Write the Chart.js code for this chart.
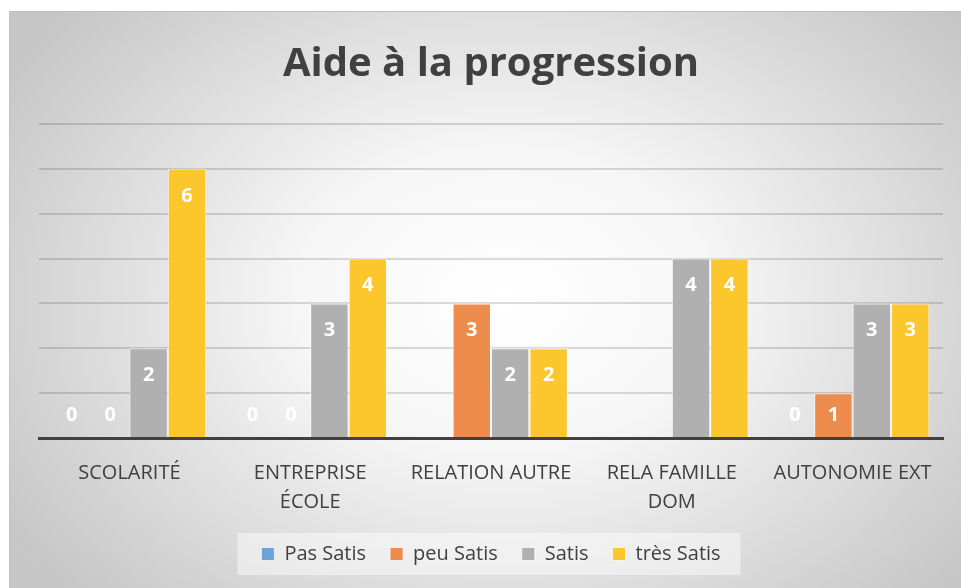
<!DOCTYPE html>
<html>
<head>
<meta charset="utf-8">
<script src="https://cdn.jsdelivr.net/npm/chart.js@4.4.0/dist/chart.umd.min.js"></script>
<style>
  html, body { margin: 0; padding: 0; background: #fff; }
  #frame {
    position: absolute; left: 9px; top: 11px; width: 952px; height: 577px;
    border-top: 1px solid #bdbdbd; border-left: 1px solid #c4c4c4;
    box-sizing: border-box;
    background: radial-gradient(ellipse 62% 75% at 52% 50%, #ffffff 0%, #f6f6f6 35%, #dcdcdc 70%, #c6c6c6 100%);
  }
  #frame canvas { position: absolute; left: 0; top: 0; }
</style>
</head>
<body>
<div id="frame"><canvas id="chart" width="951" height="576"></canvas></div>
<script>
// Aide à la progression - grouped bars

const categories = [['SCOLARITÉ'], ['ENTREPRISE', 'ÉCOLE'], ['RELATION AUTRE'], ['RELA FAMILLE', 'DOM'], ['AUTONOMIE EXT']];
const pasSatis  = [0, 0, null, null, 0];
const peuSatis  = [0, 0, 3, null, 1];
const satis     = [2, 3, 2, 4, 3];
const tresSatis = [6, 4, 2, 4, 3];
const yTicks = [0, 1, 2, 3, 4, 5, 6, 7];

const TEXT = '#404040';

// white bold value labels, inside the top of each bar
const valueLabels = {
  id: 'valueLabels',
  afterDatasetsDraw(chart) {
    const ctx = chart.ctx;
    const base = chart.scales.y.getPixelForValue(0);
    ctx.save();
    ctx.font = 'bold 20px "Open Sans"';
    ctx.fillStyle = '#ffffff';
    ctx.textAlign = 'center';
    ctx.textBaseline = 'middle';
    chart.data.datasets.forEach((ds, i) => {
      chart.getDatasetMeta(i).data.forEach((bar, j) => {
        const v = ds.data[j];
        if (v === null || v === undefined) return;
        const y = Math.min(bar.y + 27, base - 23);
        ctx.fillText(String(v), bar.x, y);
      });
    });
    ctx.restore();
  },
};

// pale box behind the legend
const legendBox = {
  id: 'legendBox',
  beforeDraw(chart) {
    const lg = chart.legend;
    if (!lg || !lg.legendHitBoxes.length) return;
    const hb = lg.legendHitBoxes;
    const x0 = hb[0].left - 24, x1 = hb[hb.length - 1].left + hb[hb.length - 1].width + 20;
    const y0 = hb[0].top - 11, y1 = hb[0].top + hb[0].height + 11;
    const ctx = chart.ctx;
    ctx.save();
    ctx.fillStyle = 'rgba(255,255,255,0.45)';
    ctx.fillRect(x0, y0, x1 - x0, y1 - y0);
    ctx.restore();
  },
};

const bar = (label, data, color) => ({
  label, data,
  backgroundColor: color,
  borderColor: 'rgba(255,255,255,0.7)',
  borderWidth: 1,
  categoryPercentage: 0.85,
  barPercentage: 1,
});

new Chart(document.getElementById('chart'), {
  type: 'bar',
  data: {
    labels: categories,
    datasets: [
      bar('Pas Satis', pasSatis, '#6fa3d8'),
      bar('peu Satis', peuSatis, '#ee8c4e'),
      bar('Satis', satis, '#b0b0b0'),
      bar('très Satis', tresSatis, '#fcc72c'),
    ],
  },
  options: {
    responsive: false,
    animation: false,
    layout: { padding: { left: 29, right: 18, top: 29, bottom: 14 } },
    plugins: {
      title: {
        display: true,
        text: 'Aide à la progression',
        color: TEXT,
        font: { family: 'Open Sans', size: 40, weight: 'bold' },
        padding: { top: 0, bottom: 35 },
      },
      legend: {
        position: 'bottom',
        labels: {
          color: TEXT,
          font: { family: 'Open Sans', size: 20 },
          boxWidth: 13, boxHeight: 13,
          padding: 24,
        },
      },
      tooltip: { enabled: false },
    },
    scales: {
      x: {
        grid: { display: false },
        border: { color: TEXT, width: 3 },
        ticks: { color: TEXT, font: { family: 'Open Sans', size: 20, lineHeight: 1.45 }, padding: 13, maxRotation: 0 },
        afterFit: (s) => { s.height -= 10; },
      },
      y: {
        min: yTicks[0], max: yTicks[yTicks.length - 1],
        afterBuildTicks: (s) => { s.ticks = yTicks.map(v => ({ value: v })); },
        grid: { color: 'rgba(0,0,0,0.14)', lineWidth: 2, drawTicks: false },
        border: { display: false },
        ticks: { display: false },
      },
    },
  },
  plugins: [legendBox, valueLabels],
});
</script>
</body>
</html>
